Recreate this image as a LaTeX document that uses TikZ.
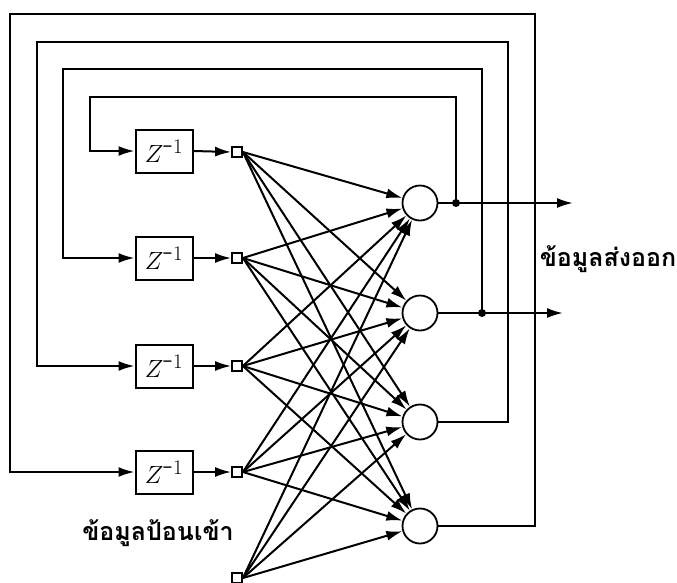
\documentclass[tikz,border=0pt]{standalone}
\usepackage{fontspec}
\newfontfamily\thaifont[Script=Thai]{Loma}
\usetikzlibrary{arrows.meta}

\tikzset{
    delay/.style={
           rectangle,
           draw=black, line width=2pt,
           minimum width=57pt, minimum height=43pt,
           inner sep=0pt,
           font=\fontsize{32}{36}\selectfont,
           },
    port/.style={
           rectangle,
           draw=black, line width=1.8pt,
           minimum size=10pt, inner sep=0pt,
           },
    neuron/.style={
           circle,
           draw=black, line width=1.8pt,
           minimum size=35pt, inner sep=0pt,
           },
    joint/.style={circle, fill=black, minimum size=8pt, inner sep=0pt},
    wire/.style={line width=2pt},
    thaitext/.style={font=\thaifont\bfseries\fontsize{25}{28}\selectfont},
}
\newcommand{\zinv}{$Z^{\mbox{-}1}$}

\begin{document}
\begin{tikzpicture}[x=1pt,y=-1pt,>={Latex[length=16pt,width=10pt]}]
       \useasboundingbox (0,0) rectangle (677,582);

       % delay units
       \node[delay] (Z1) at (164,151) {\zinv};
       \node[delay] (Z2) at (164,258) {\zinv};
       \node[delay] (Z3) at (164,366) {\zinv};
       \node[delay] (Z4) at (164,472) {\zinv};

       % input ports
       \node[port] (IN1) at (237,152) {};
       \node[port] (IN2) at (237,258) {};
       \node[port] (IN3) at (237,366) {};
       \node[port] (IN4) at (237,472) {};
       \node[port] (IN5) at (237,578) {};

       % neurons
       \node[neuron] (N1) at (420,203) {};
       \node[neuron] (N2) at (420,313) {};
       \node[neuron] (N3) at (420,422) {};
       \node[neuron] (N4) at (420,526) {};

       % branch points and output ends
       \node[joint] (D1) at (456,203) {};
       \node[joint] (D2) at (482,313) {};
       \coordinate (OUT1) at (573,203);
       \coordinate (OUT2) at (563,313);

       % corners of the feedback loops
       \coordinate (TOP1) at (90,97);
       \coordinate (TOP2) at (63,69);
       \coordinate (TOP3) at (37,42);
       \coordinate (TOP4) at (10,14);
       \coordinate (RIGHT3) at (508,42);
       \coordinate (RIGHT4) at (535,14);

       \node[thaitext] (OUTLABEL) at (608,259) {ข้อมูลส่งออก};
       \node[thaitext] (INLABEL) at (158,533) {ข้อมูลป้อนเข้า};

       % delay -> port
       \draw[wire,->] (Z1.east) -- (IN1.west);
       \draw[wire,->] (Z2.east) -- (IN2.west);
       \draw[wire,->] (Z3.east) -- (IN3.west);
       \draw[wire,->] (Z4.east) -- (IN4.west);

       % every port feeds every neuron
       \foreach \i in {1,...,5}
           \foreach \j in {1,...,4}
               \draw[wire,->] (IN\i.east) -- (N\j);

       % outputs
       \draw[wire] (N1.east) -- (D1.center);
       \draw[wire,->] (D1.center) -- (OUT1);
       \draw[wire] (N2.east) -- (D2.center);
       \draw[wire,->] (D2.center) -- (OUT2);

       % feedback
       \draw[wire,->] (D1.center) |- (TOP1) |- (Z1.west);
       \draw[wire,->] (D2.center) |- (TOP2) |- (Z2.west);
       \draw[wire,->] (N3.east) -| (RIGHT3) -- (TOP3) |- (Z3.west);
       \draw[wire,->] (N4.east) -| (RIGHT4) -- (TOP4) |- (Z4.west);

\end{tikzpicture}
\end{document}
